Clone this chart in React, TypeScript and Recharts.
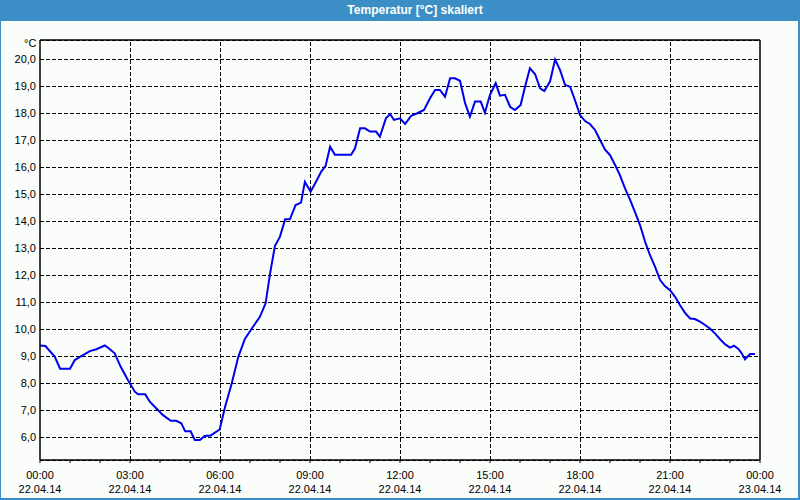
import React from "react";
import {
  LineChart,
  Line,
  XAxis,
  YAxis,
  CartesianGrid,
  ReferenceLine,
} from "recharts";

// Stunden seit 22.04.14 00:00
const hours = [
  0, 0.18, 0.49, 0.67, 1.0, 1.16, 1.38, 1.66, 1.88, 2.16, 2.29, 2.49, 2.69,
  2.93, 3.16, 3.27, 3.51, 3.66, 3.93, 4.1, 4.36, 4.54, 4.71, 4.84, 5.02, 5.16,
  5.33, 5.49, 5.69, 5.99, 6.17, 6.39, 6.61, 6.83, 7.06, 7.33, 7.52, 7.67, 7.83,
  8.0, 8.17, 8.33, 8.52, 8.7, 8.83, 9.02, 9.17, 9.37, 9.52, 9.67, 9.83, 10.37,
  10.5, 10.67, 10.83, 11.0, 11.2, 11.33, 11.53, 11.67, 11.8, 12.0, 12.17, 12.37,
  12.56, 12.8, 13.0, 13.17, 13.33, 13.5, 13.67, 13.83, 14.0, 14.17, 14.33, 14.5,
  14.69, 14.83, 15.0, 15.19, 15.33, 15.5, 15.67, 15.83, 16.02, 16.17, 16.33,
  16.5, 16.67, 16.81, 17.0, 17.17, 17.33, 17.5, 17.67, 17.83, 18.0, 18.17,
  18.33, 18.5, 18.67, 18.83, 19.0, 19.17, 19.33, 19.5, 19.67, 19.83, 20.0,
  20.17, 20.33, 20.5, 20.67, 20.83, 21.0, 21.17, 21.33, 21.5, 21.67, 21.83,
  22.0, 22.17, 22.33, 22.5, 22.67, 22.83, 23.0, 23.13, 23.28, 23.39, 23.5,
  23.67, 23.83,
];

// Temperatur in °C
const temps = [
  9.41, 9.39, 9.0, 8.55, 8.55, 8.87, 9.02, 9.2, 9.27, 9.41, 9.31, 9.12, 8.62,
  8.13, 7.7, 7.6, 7.6, 7.33, 7.02, 6.83, 6.62, 6.62, 6.53, 6.23, 6.23, 5.91,
  5.91, 6.06, 6.08, 6.3, 7.14, 8.0, 8.99, 9.65, 10.04, 10.47, 10.97, 12.08,
  13.09, 13.44, 14.08, 14.08, 14.61, 14.7, 15.47, 15.1, 15.41, 15.84, 16.06,
  16.77, 16.47, 16.47, 16.71, 17.45, 17.45, 17.33, 17.33, 17.14, 17.82, 17.98,
  17.76, 17.82, 17.61, 17.91, 18.0, 18.13, 18.56, 18.87, 18.87, 18.62, 19.3,
  19.3, 19.21, 18.38, 17.88, 18.44, 18.44, 18.03, 18.69, 19.12, 18.66, 18.69,
  18.25, 18.13, 18.31, 19.0, 19.67, 19.46, 18.93, 18.83, 19.18, 20.0, 19.62,
  19.06, 18.99, 18.5, 17.94, 17.72, 17.61, 17.39, 17.02, 16.67, 16.46, 16.09,
  15.72, 15.23, 14.8, 14.36, 13.87, 13.25, 12.76, 12.33, 11.83, 11.61, 11.46,
  11.21, 10.91, 10.62, 10.41, 10.39, 10.29, 10.17, 10.04, 9.86, 9.64, 9.46,
  9.33, 9.4, 9.28, 9.12, 8.9, 9.09, 9.09,
];

const hourTicks = Array.from({ length: 25 }, (_, i) => i);
const majorHours = [3, 6, 9, 12, 15, 18, 21];
const timeLabels = ["00:00", "03:00", "06:00", "09:00", "12:00", "15:00", "18:00", "21:00", "00:00"];
const dateLabels = ["22.04.14", "22.04.14", "22.04.14", "22.04.14", "22.04.14", "22.04.14", "22.04.14", "22.04.14", "23.04.14"];
const yTicks = [6, 7, 8, 9, 10, 11, 12, 13, 14, 15, 16, 17, 18, 19, 20];

const data = hours.map((h, i) => ({ h, t: temps[i] }));

const FONT = "Tahoma, 'Liberation Sans', Arial, sans-serif";

const XTick = (props: any) => {
  const { x, y, payload } = props;
  const v = payload.value;
  if (v % 3 !== 0) return <g />;
  const idx = v / 3;
  return (
    <g>
      <text x={x} y={y + 14} textAnchor="middle" fontSize={11} fontFamily={FONT} fill="#000">
        {timeLabels[idx]}
      </text>
      <text x={x} y={y + 28} textAnchor="middle" fontSize={11} fontFamily={FONT} fill="#000">
        {dateLabels[idx]}
      </text>
    </g>
  );
};

export default function App() {
  return (
    <div
      style={{
        position: "absolute",
        left: 0,
        top: 0,
        width: 800,
        height: 500,
        background: "#3c8fc6",
        overflow: "hidden",
      }}
    >
      <div
        style={{
          position: "absolute",
          left: 1,
          top: 21,
          width: 797,
          height: 477,
          background: "#fafdfa",
        }}
      />
      <div
        style={{
          position: "absolute",
          left: 0,
          top: 0,
          width: 830,
          height: 20,
          lineHeight: "20px",
          textAlign: "center",
          color: "#fff",
          fontFamily: FONT,
          fontWeight: "bold",
          fontSize: 12,
        }}
      >
        Temperatur [°C] skaliert
      </div>
      <div
        style={{
          position: "absolute",
          left: 24,
          top: 37,
          fontFamily: FONT,
          fontSize: 11,
          lineHeight: "13px",
          color: "#000",
        }}
      >
        °C
      </div>
      <div style={{ position: "absolute", left: 0, top: 0 }}>
        <LineChart
          width={800}
          height={500}
          data={data}
          margin={{ top: 40, right: 40, bottom: 0, left: 0 }}
        >
          <CartesianGrid
            vertical={false}
            stroke="#000"
            strokeDasharray="4 2"
            shapeRendering="crispEdges"
          />
          {majorHours.map((h) => (
            <ReferenceLine
              key={h}
              x={h}
              stroke="#000"
              strokeDasharray="4 2"
              shapeRendering="crispEdges"
            />
          ))}
          <ReferenceLine y={20.72} stroke="#000" strokeWidth={1.5} />
          <ReferenceLine x={24} stroke="#000" strokeWidth={1.5} />
          <XAxis
            dataKey="h"
            type="number"
            domain={[0, 24]}
            ticks={hourTicks}
            interval={0}
            height={40}
            tickSize={3}
            tickMargin={2}
            axisLine={{ stroke: "#000", strokeWidth: 1.5 }}
            tickLine={{ stroke: "#000" }}
            tick={<XTick />}
          />
          <YAxis
            type="number"
            domain={[5.17, 20.72]}
            ticks={yTicks}
            interval={0}
            width={40}
            tickSize={0}
            tickMargin={4}
            allowDataOverflow
            axisLine={{ stroke: "#000", strokeWidth: 1.5 }}
            tick={{ fontSize: 11, fontFamily: FONT, fill: "#000" }}
            tickFormatter={(v: number) => v.toFixed(1).replace(".", ",")}
          />
          <Line
            dataKey="t"
            type="linear"
            stroke="#0000ee"
            strokeWidth={2}
            dot={false}
            isAnimationActive={false}
          />
        </LineChart>
      </div>
    </div>
  );
}
